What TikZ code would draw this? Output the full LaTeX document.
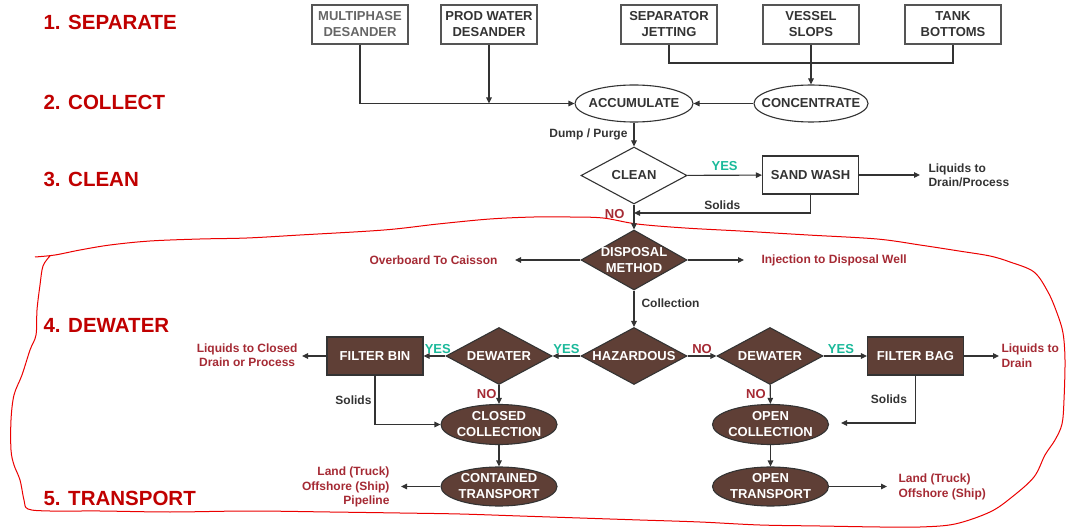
\documentclass[tikz,border=0pt]{standalone}
\usepackage{fontspec}
\setmainfont{Liberation Sans}
\usepackage{xcolor}
\usepackage{tikz}
\usetikzlibrary{shapes}
\usetikzlibrary{arrows.meta}
\usetikzlibrary{positioning}
\definecolor{brownfill}{RGB}{95,63,54}
\definecolor{phasered}{RGB}{192,0,0}
\definecolor{notered}{RGB}{165,42,52}
\definecolor{yesgreen}{RGB}{26,185,154}
\definecolor{darktext}{RGB}{51,51,51}
\definecolor{linegray}{RGB}{85,85,85}
\definecolor{penred}{RGB}{235,0,0}
\newcommand{\boxfont}{\fontsize{13}{16}\selectfont\bfseries}
\newcommand{\notefont}{\fontsize{12}{14.5}\selectfont\bfseries}
\newcommand{\tagfont}{\fontsize{13}{15}\selectfont\bfseries}
\newcommand{\phasefont}{\fontsize{20.5}{24}\selectfont\bfseries}

\begin{document}
\begin{tikzpicture}[
  x=1pt, y=-1pt,
  line width=1.1pt,
  arrow/.style={draw=darktext, -{Triangle[length=6pt,width=5.5pt]}},
  link/.style={draw=darktext}
]
\tikzset{
    boxtext/.style = {font=\boxfont, align=center, text=darktext, inner sep=0pt},
    sourcebox/.style = {rectangle, draw=linegray, fill=white, minimum width=96pt, minimum height=39pt, inner sep=0pt, align=center, font=\boxfont, text=darktext},
    washbox/.style = {sourcebox, draw=darktext, minimum height=38pt},
    filterbox/.style = {sourcebox, draw=black!80, fill=brownfill, text=white, minimum height=38pt},
    oval/.style = {ellipse, draw=darktext, fill=white, minimum width=116pt, minimum height=37pt, inner sep=0pt, label={[boxtext]center:#1}},
    darkoval/.style = {ellipse, draw=black!80, fill=brownfill, minimum width=116pt, minimum height=40pt, inner sep=0pt, label={[boxtext, text=white]center:#1}},
    decision/.style = {diamond, draw=darktext, fill=white, minimum width=106pt, minimum height=57pt, inner sep=0pt, label={[boxtext]center:#1}},
    darkdecision/.style = {diamond, draw=black!80, fill=brownfill, minimum width=106pt, minimum height=57pt, inner sep=0pt, label={[boxtext, text=white]center:#1}},
    note/.style = {font=\notefont, text=notered, inner sep=0pt},
    darknote/.style = {font=\notefont, text=darktext, inner sep=0pt},
    yestag/.style = {font=\tagfont, text=yesgreen, inner sep=0pt},
    notag/.style = {font=\tagfont, text=notered, inner sep=0pt},
    phase/.style = {font=\phasefont, text=phasered, anchor=west, inner sep=0pt},
}
\useasboundingbox (0,0) rectangle (1069,529);

% hand drawn marking
\draw[penred, line width=1pt, line join=round] plot[smooth, tension=0.55] coordinates {
  (35,257) (55,255) (80,250) (110,245) (150,241) (200,239) (247,238) (300,235)
  (384,230) (438,224) (490,219) (534,217) (570,217) (603,218) (637,224)
  (685,228) (740,231) (808,235) (877,239) (920,245) (959,251) (990,256) (1010,262)
  (1034,272) (1048,292) (1057,313) (1063,333) (1065,360) (1064,400) (1062,424)
  (1055,440) (1045,455) (1034,477) (1012,497) (990,512) (955,524) (920,527)
  (880,527) (820,526) (760,525) (700,522) (640,520) (580,518) (520,516) (460,514)
  (400,513) (330,512) (250,511) (170,512) (100,511) (50,511) (28,509) (24,500)
  (20,480) (14,465) (11,450) (11,420) (14,395) (22,375) (30,350) (36,335) (37,310)
  (40,285) (43,266) (50,256)};

% phases
\node (phase1) [phase] at (43,22) {1. SEPARATE};
\node (phase2) [phase] at (43,102) {2. COLLECT};
\node (phase3) [phase] at (43,179) {3. CLEAN};
\node (phase4) [phase] at (43,325) {4. DEWATER};
\node (phase5) [phase] at (43,498) {5. TRANSPORT};

% sources
\node (multi) [sourcebox, text=black!60] at (360,24.5) {MULTIPHASE\\DESANDER};
\node (prodw) [sourcebox] at (489,24.5) {PROD WATER\\DESANDER};
\node (sepjet) [sourcebox] at (669,24.5) {SEPARATOR\\JETTING};
\node (vslops) [sourcebox] at (811,24.5) {VESSEL\\SLOPS};
\node (tankb) [sourcebox] at (953,24.5) {TANK\\BOTTOMS};

% collect and clean
\node (accum) [oval=ACCUMULATE, minimum width=118pt] at (634,103.5) {};
\node (conc) [oval=CONCENTRATE, minimum width=114pt] at (811,103.5) {};
\node (clean) [decision=CLEAN] at (634,175.5) {};
\node (sandwash) [washbox] at (810.5,175) {SAND WASH};
\node (liqproc) [darknote, anchor=west, align=left] at (928,175.5) {Liquids to\\Drain/Process};
\coordinate (pjoin) at (prodw.south |- accum.west);
\coordinate (bus) at (811,63);
\coordinate (cjoin) at (634,213);

% disposal
\node (disposal) [darkdecision=DISPOSAL\\METHOD, minimum height=60pt] at (634,260) {};
\node (overboard) [note, anchor=east] at (498,260) {Overboard To Caisson};
\node (injwell) [note, anchor=west] at (761,260) {Injection to Disposal Well};

% dewater
\node (haz) [darkdecision=HAZARDOUS] at (634,356) {};
\node (dewl) [darkdecision=DEWATER] at (499,356) {};
\node (dewr) [darkdecision=DEWATER] at (770,356) {};
\node (fbin) [filterbox] at (375,356) {FILTER BIN};
\node (fbag) [filterbox] at (915.5,356) {FILTER BAG};
\node (liqclosed) [note, anchor=east, align=center] at (298,355) {Liquids to Closed\\Drain or Process};
\node (liqdrain) [note, anchor=west, align=left] at (1001,355.5) {Liquids to\\Drain};
\node (closedc) [darkoval=CLOSED\\COLLECTION] at (499,424.5) {};
\node (openc) [darkoval=OPEN\\COLLECTION] at (770.5,424.5) {};
\coordinate (bagtip) at (841,423);

% transport
\node (contt) [darkoval=CONTAINED\\TRANSPORT, minimum height=39pt] at (499,486.5) {};
\node (opent) [darkoval=OPEN\\TRANSPORT, minimum height=39pt] at (770.5,486.5) {};
\node (landpipe) [note, anchor=east, align=right] at (390,487) {Land (Truck)\\Offshore (Ship)\\Pipeline};
\node (landship) [note, anchor=west, align=left] at (898,487) {Land (Truck)\\Offshore (Ship)};

% connectors
\draw[arrow] (multi.south) |- (accum.west);
\draw[arrow] (prodw.south) -- (pjoin);
\draw[link] (sepjet.south) |- (bus) -| (tankb.south);
\draw[arrow] (vslops.south) -- (conc.north);
\draw[arrow] (conc) -- (accum);
\draw[arrow] (accum) -- node (dumplbl) [darknote, left=6pt] {Dump / Purge} (clean);
\draw[arrow] (clean) -- node (yeswash) [yestag, above=4pt] {YES} (sandwash);
\draw[arrow, shorten >=8pt] (sandwash.east) -- (sandwash.east -| liqproc.west);
\draw[arrow] (sandwash.south) |- node (solwash) [darknote, pos=0.75, above=3pt] {Solids} (cjoin);
\draw[arrow] (clean) -- node (nodisp) [notag, pos=0.38, left=9pt] {NO} (disposal);
\draw[arrow, shorten >=17pt] (disposal) -- (overboard);
\draw[arrow, shorten >=17pt] (disposal) -- (injwell);
\draw[arrow] (disposal) -- node (colllbl) [darknote, pos=0.35, right=7pt] {Collection} (haz);

\draw[arrow] (haz) -- node (yesl) [yestag, above=2pt] {YES} (dewl);
\draw[arrow] (dewl) -- node (yesbin) [yestag, pos=0.35, above=2pt] {YES} (fbin);
\draw[arrow, shorten >=4pt] (fbin.west) -- (fbin.west -| liqclosed.east);
\draw[arrow] (dewl) -- node (nol) [notag, left=2pt] {NO} (closedc);
\draw[arrow] (fbin.south) |- node (solbin) [darknote, pos=0.25, left=3pt] {Solids} (closedc.west);

\draw[arrow] (haz) -- node (nor) [notag, above=2pt] {NO} (dewr);
\draw[arrow] (dewr) -- node (yesbag) [yestag, pos=0.4, above=2pt] {YES} (fbag);
\draw[arrow, shorten >=2pt] (fbag.east) -- (fbag.east -| liqdrain.west);
\draw[arrow] (dewr) -- node (nor2) [notag, left=4pt] {NO} (openc);
\draw[arrow] (fbag.south) |- node (solbag) [darknote, pos=0.25, left=8pt] {Solids} (bagtip);

\draw[arrow] (closedc) -- (contt);
\draw[arrow] (openc) -- (opent);
\draw[arrow, shorten >=11pt] (contt.west) -- (contt.west -| landpipe.east);
\draw[arrow, shorten >=11pt] (opent.east) -- (opent.east -| landship.west);

\end{tikzpicture}
\end{document}
